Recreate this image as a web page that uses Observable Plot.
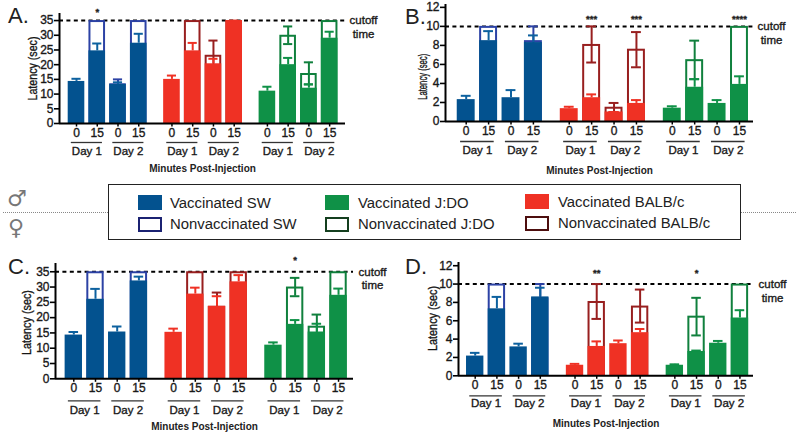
<!DOCTYPE html>
<html>
<head>
<meta charset="utf-8">
<script src="https://cdn.jsdelivr.net/npm/d3@7"></script>
<script src="https://cdn.jsdelivr.net/npm/@observablehq/plot@0.6"></script>
<style>
html,body{margin:0;padding:0;background:#fff;}
#page{position:relative;width:800px;height:435px;overflow:hidden;font-family:"Liberation Sans",Arial,sans-serif;color:#111;}
.panel{position:absolute;}
.panel svg{display:block;overflow:visible;}
.panel text{stroke:#222;stroke-width:.35px;}
.letter{position:absolute;font-size:22px;color:#222;}
.sym{position:absolute;font-family:"DejaVu Sans";font-size:22px;color:#777;line-height:1;}
.dots{position:absolute;top:212px;height:0;border-top:1.5px dotted #888;}
.sw{position:absolute;width:24px;height:15px;box-sizing:border-box;}
.lt{position:absolute;font-size:14.9px;line-height:16px;color:#222;white-space:nowrap;}
</style>
</head>
<body>
<div id="page"></div>
<script>
// ---- shared categories
const strains = ["SW", "BALB/c", "J:DO"];
const minutesLabels = ["0", "15", "0", "15"];
const dayLabels = ["Day 1", "Day 2"];
const legendStrains = ["SW", "J:DO", "BALB/c"];

// order of every series: SW, BALB/c, J:DO; each with D1-0, D1-15, D2-0, D2-15
// ---- Panel A
const aVac    = [14.3,24.7,13.3,27.3, 15,24.7,20.3,35, 11,20,12,29];
const aVacHi  = [15.2,27.2,14,30.5, 16.3,27.4,22,35, 12.5,22.3,13.3,31.2];
const aNon    = [null,35,13.5,35, null,35,23.2,35, null,30,17,35];
const aNonHi  = [null,null,15,null, null,null,28.2,null, null,33,20.8,null];
const aNonLo  = [null,null,12,null, null,null,18,null, null,27,13.3,null];
const aStars  = [[1,"*"]];
// ---- Panel B
const bVac    = [2.3,8.5,2.5,8.3, 1.35,2.5,1,1.9, 1.4,3.6,1.9,3.9];
const bVacHi  = [2.7,9.5,3.3,9.05, 1.55,2.85,1,2.25, 1.6,4.45,2.25,4.75];
const bNon    = [null,10,null,8.5, null,8.1,1.5,7.6, null,6.5,null,10];
const bNonHi  = [null,null,null,10, null,10,1.95,9.4, null,8.5,null,null];
const bNonLo  = [null,null,null,7, null,6.2,1,5.7, null,4.45,null,null];
const bStars  = [[5,"***"],[7,"***"],[11,"****"]];
// ---- Panel C
const cVac    = [14.3,26,15.3,32, 15.2,27.7,23.7,31.7, 11,17.8,15.3,27.3];
const cVacHi  = [15.3,29.4,17.1,33.4, 16.4,29.8,27,33.9, 11.9,19.2,18,29.5];
const cNon    = [null,35,null,35, null,35,23.7,35, null,30,17.2,35];
const cNonHi  = [null,null,null,null, null,null,28.2,null, null,33,21,null];
const cNonLo  = [null,null,null,null, null,null,19,null, null,27,13,null];
const cStars  = [[9,"*"]];
// ---- Panel D
const dVac    = [2.15,7.3,3.15,8.6, 1.15,3.2,3.5,4.7, 1.15,2.65,3.55,6.3];
const dVacHi  = [2.5,8.6,3.5,9.6, 1.3,3.75,3.85,5.1, 1.25,2.75,3.8,7.15];
const dNon    = [null,10,null,8.5, null,8.1,null,7.6, null,6.5,null,10];
const dNonHi  = [null,null,null,10, null,10,null,9.4, null,8.5,null,null];
const dNonLo  = [null,null,null,7, null,6.2,null,5.8, null,4.4,null,null];
const dStars  = [[5,"**"],[9,"*"]];

// ---- styles
const vacColor = {"SW":"#03528f","BALB/c":"#ef3124","J:DO":"#0f9147"};
const vacWhisk = {"SW":"#0d619f","BALB/c":"#ef3124","J:DO":"#0f9147"};
const nonColor = {"SW":"#2c42a5","BALB/c":"#981f1f","J:DO":"#10803d"};
const nonLegend = {"SW":"#1b2272","BALB/c":"#4d0e0e","J:DO":"#143f1f"};

const page = document.getElementById("page");
const ink = "#111";

function slotOf(i){ return i + 0.6*Math.floor(i/4); }

function panel(cfg){
  const rows = d3.range(12).map(i => ({
    slot: slotOf(i),
    strain: strains[Math.floor(i/4)],
    vac: cfg.vac[i], vacHi: cfg.vacHi[i],
    non: cfg.non[i], nonHi: cfg.nonHi[i], nonLo: cfg.nonLo[i]
  }));
  const hw = 0.4, cap = 0.22, sw = 2;
  const xL = d => d.slot - hw, xR = d => d.slot + hw;
  const withNon = rows.filter(d => d.non != null);
  const withWh = rows.filter(d => d.nonHi != null);
  const days = d3.range(6).map(k => ({slot: slotOf(k*2), label: dayLabels[k%2]}));
  const ticks = rows.map(d => d.slot);
  const fs = 11.5;
  const px = cfg.pxPerSlot;
  const x0 = -(cfg.firstCenter - cfg.xStart)/px;
  const x1 = (cfg.xEnd - cfg.firstCenter)/px;
  const fig = Plot.plot({
    width: cfg.w, height: cfg.h,
    marginLeft: cfg.xStart - cfg.left,
    marginRight: cfg.left + cfg.w - cfg.xEnd,
    marginTop: cfg.yTop - cfg.top,
    marginBottom: cfg.top + cfg.h - cfg.yZero,
    style: {fontFamily:'"Liberation Sans",Arial,sans-serif', background:"transparent", color:ink, overflow:"visible"},
    x: {domain:[x0,x1], axis:null},
    y: {domain:[0,cfg.yMax], axis:null},
    marks: [
      Plot.ruleY([cfg.cut], {stroke:"#000", strokeWidth:2, strokeDasharray:"4,3.4"}),
      Plot.rect(withNon, {x1:xL, x2:xR, y1:()=>0, y2:"non", fill:"#fff", stroke:d=>nonColor[d.strain], strokeWidth:sw, inset:1}),
      Plot.ruleX(withWh, {x:"slot", y1:"nonLo", y2:"nonHi", stroke:d=>nonColor[d.strain], strokeWidth:sw}),
      Plot.ruleY(withWh, {y:"nonHi", x1:d=>d.slot-cap, x2:d=>d.slot+cap, stroke:d=>nonColor[d.strain], strokeWidth:sw}),
      Plot.ruleY(withWh, {y:"nonLo", x1:d=>d.slot-cap, x2:d=>d.slot+cap, stroke:d=>nonColor[d.strain], strokeWidth:sw}),
      Plot.rect(rows, {x1:xL, x2:xR, y1:()=>0, y2:"vac", fill:d=>vacColor[d.strain]}),
      Plot.ruleX(rows, {x:"slot", y1:"vac", y2:"vacHi", stroke:d=>vacWhisk[d.strain], strokeWidth:sw}),
      Plot.ruleY(rows, {y:"vacHi", x1:d=>d.slot-cap, x2:d=>d.slot+cap, stroke:d=>vacWhisk[d.strain], strokeWidth:sw}),
      Plot.ruleY([0], {stroke:"#000", strokeWidth:2}),
      Plot.ruleX([x0], {stroke:"#000", strokeWidth:2}),
      Plot.axisY({ticks:cfg.yTicks, tickSize:5, tickPadding:1, tickFormat:d=>d, fontSize:12, stroke:"#000", strokeWidth:1.6, label:null, x:x0}),
      Plot.axisX({ticks, tickSize:3.5, tickPadding:1, tickFormat:(d,i)=>minutesLabels[i%4], fontSize:12, stroke:"#000", strokeWidth:1.5, label:null, y:0, anchor:"bottom"}),
      Plot.ruleY(days, {y:()=>0, x1:d=>d.slot-0.25, x2:d=>d.slot+1.25, dy:cfg.lineDy, stroke:"#333", strokeWidth:1.3}),
      Plot.text(days, {x:d=>d.slot+0.5, y:()=>0, text:"label", dy:cfg.dayDy, fontSize:fs, fill:ink}),
      Plot.text(["Latency (sec)"], {x:()=>x0, y:()=>cfg.labelAt, text:d=>d, dx:-cfg.labelOffset, rotate:-90, fontSize:12.5, fill:ink}),
      Plot.text(["Minutes Post-Injection"], {x:()=>(x0+x1)/2, y:()=>0, text:d=>d, dy:cfg.minDy, fontSize:10, fontWeight:"bold", fill:"#222"}),
      Plot.text(["cutoff\ntime"], {x:()=>x1, y:()=>cfg.cut, text:d=>d, dx:cfg.cutDx, dy:-6, lineAnchor:"top", lineHeight:1.2, textAnchor:"middle", fontSize:fs, fill:ink}),
      Plot.text(cfg.stars, {x:d=>slotOf(d[0]), y:()=>cfg.cut, text:d=>d[1], dy:cfg.starDy, fontSize:9.5, fontWeight:"bold", fill:"#222"})
    ]
  });
  fig.querySelectorAll("text").forEach(t => {
    if (t.textContent === "Latency (sec)") {
      t.setAttribute("textLength", cfg.labelLen);
      t.setAttribute("lengthAdjust", "spacingAndGlyphs");
    }
    if (t.textContent === "Minutes Post-Injection") t.style.stroke = "none";
  });
  const box = document.createElement("div");
  box.className = "panel";
  box.style.left = cfg.left+"px";
  box.style.top = cfg.top+"px";
  box.appendChild(fig);
  page.appendChild(box);
  const l = document.createElement("div");
  l.className = "letter";
  l.textContent = cfg.letter;
  l.style.left = cfg.lx+"px";
  l.style.top = cfg.ly+"px";
  page.appendChild(l);
}

const t35 = [0,5,10,15,20,25,30,35], t12 = [0,2,4,6,8,10,12];
panel({letter:"A.", lx:8, ly:3, vac:aVac, vacHi:aVacHi, non:aNon, nonHi:aNonHi, nonLo:aNonLo, stars:aStars,
  left:0, top:0, w:400, h:178, xStart:59, xEnd:345, yTop:13, yZero:123, yMax:37.4, cut:35, yTicks:t35,
  firstCenter:76, pxPerSlot:20.75, labelOffset:27, labelAt:18.7, labelLen:64, lineDy:19, dayDy:28, minDy:45, cutDx:18, starDy:-9});
panel({letter:"B.", lx:405, ly:4, vac:bVac, vacHi:bVacHi, non:bNon, nonHi:bNonHi, nonLo:bNonLo, stars:bStars,
  left:400, top:0, w:400, h:178, xStart:445, xEnd:753, yTop:4, yZero:121, yMax:12.3, cut:10, yTicks:t12,
  firstCenter:465.7, pxPerSlot:22.4, labelOffset:23, labelAt:4.7, labelLen:46, lineDy:20, dayDy:29, minDy:49, cutDx:18, starDy:-7});
panel({letter:"C.", lx:8, ly:254, vac:cVac, vacHi:cVacHi, non:cNon, nonHi:cNonHi, nonLo:cNonLo, stars:cStars,
  left:0, top:245, w:400, h:190, xStart:55, xEnd:353, yTop:263, yZero:378.3, yMax:37.7, cut:35, yTicks:t35,
  firstCenter:73.3, pxPerSlot:21.7, labelOffset:29, labelAt:18.4, labelLen:65, lineDy:22, dayDy:32, minDy:48, cutDx:19, starDy:-12});
panel({letter:"D.", lx:405, ly:254, vac:dVac, vacHi:dVacHi, non:dNon, nonHi:dNonHi, nonLo:dNonLo, stars:dStars,
  left:400, top:245, w:400, h:190, xStart:458, xEnd:753, yTop:262, yZero:375.3, yMax:12.35, cut:10, yTicks:t12,
  firstCenter:474.7, pxPerSlot:21.7, labelOffset:26, labelAt:6.25, labelLen:65, lineDy:20, dayDy:28, minDy:48, cutDx:19, starDy:-11});

// ---- legend + sex divider
function addDiv(cls, css, text){
  const d = document.createElement("div");
  d.className = cls;
  Object.assign(d.style, css);
  if (text) d.textContent = text;
  page.appendChild(d);
  return d;
}
addDiv("dots",{left:"3px",width:"105px"});
addDiv("dots",{left:"740px",width:"56px"});
addDiv("sym",{left:"7px",top:"188px"},"♂");
addDiv("sym",{left:"8px",top:"217px"},"♀");
addDiv("",{position:"absolute",left:"108px",top:"184px",width:"631px",height:"54px",border:"1.5px solid #222",background:"#fff"});
const legendSwatchX = [137.5,325,525];
const legendTextX = [170,358,558];
legendStrains.forEach((s,i)=>{
  const yOff = i===2 ? -0.7 : 0;
  addDiv("sw",{left:legendSwatchX[i]+"px",top:(195+yOff)+"px",background:vacColor[s]});
  addDiv("sw",{left:legendSwatchX[i]+"px",top:(217+yOff)+"px",background:"#fff",border:"2.5px solid "+nonLegend[s]});
  addDiv("lt",{left:legendTextX[i]+"px",top:(195+yOff)+"px"},"Vaccinated "+s);
  addDiv("lt",{left:legendTextX[i]+"px",top:(216+yOff)+"px"},"Nonvaccinated "+s);
});
</script>
</body>
</html>
